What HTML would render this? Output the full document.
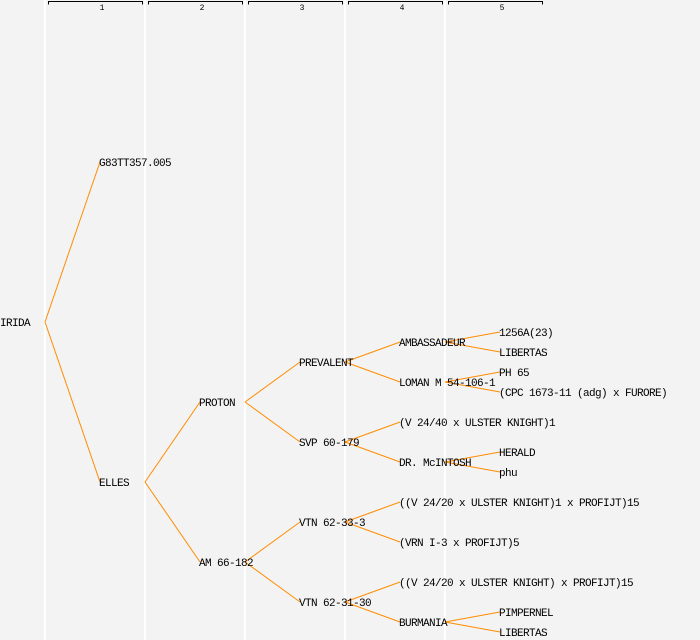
<!DOCTYPE html>
<html><head><meta charset="utf-8"><style>
html,body{margin:0;padding:0;background:#f3f3f3;}
svg{display:block;}
text{font-family:"Liberation Mono",monospace;font-size:11px;letter-spacing:-0.6px;fill:#000;}
</style></head><body>
<svg width="700" height="640" xmlns="http://www.w3.org/2000/svg">
<rect width="700" height="640" fill="#f3f3f3"/>
<g stroke="#fff" stroke-width="2">
<line x1="45" y1="0" x2="45" y2="640"/><line x1="145" y1="0" x2="145" y2="640"/>
<line x1="245" y1="0" x2="245" y2="640"/><line x1="345" y1="0" x2="345" y2="640"/>
<line x1="445" y1="0" x2="445" y2="640"/>
</g>
<g stroke="#000" stroke-width="1" fill="none">
<path d="M48.5 4.5V1.5H142.5V4.5"/><path d="M148.5 4.5V1.5H242.5V4.5"/>
<path d="M248.5 4.5V1.5H342.5V4.5"/><path d="M348.5 4.5V1.5H442.5V4.5"/>
<path d="M448.5 4.5V1.5H542.5V4.5"/>
</g>
<g text-anchor="middle">
<text x="102" y="10" style="font-size:8px;letter-spacing:0">1</text><text x="202" y="10" style="font-size:8px;letter-spacing:0">2</text>
<text x="302" y="10" style="font-size:8px;letter-spacing:0">3</text><text x="402" y="10" style="font-size:8px;letter-spacing:0">4</text>
<text x="502" y="10" style="font-size:8px;letter-spacing:0">5</text>
</g>
<g stroke="#ff8c00" stroke-width="1" fill="none">
<path d="M45 322L100 162M45 322L100 482"/>
<path d="M145 482L200 402M145 482L200 562"/>
<path d="M245 402L300 362M245 402L300 442M245 562L300 522M245 562L300 602"/>
<path d="M345 362L400 342M345 362L400 382M345 442L400 422M345 442L400 462M345 522L400 502M345 522L400 542M345 602L400 582M345 602L400 622"/>
<path d="M445 342L500 332M445 342L500 352M445 382L500 372M445 382L500 392M445 462L500 452M445 462L500 472M445 622L500 612M445 622L500 632"/>
</g>
<g transform="translate(0,4)">
<text x="0" y="322">IRIDA</text>
<text x="99" y="162">G83TT357.005</text>
<text x="99" y="482">ELLES</text>
<text x="199" y="402">PROTON</text>
<text x="199" y="562">AM 66-182</text>
<text x="299" y="362">PREVALENT</text>
<text x="299" y="442">SVP 60-179</text>
<text x="299" y="522">VTN 62-33-3</text>
<text x="299" y="602">VTN 62-31-30</text>
<text x="399" y="342">AMBASSADEUR</text>
<text x="399" y="382">LOMAN M 54-106-1</text>
<text x="399" y="422">(V 24/40 x ULSTER KNIGHT)1</text>
<text x="399" y="462">DR. McINTOSH</text>
<text x="399" y="502">((V 24/20 x ULSTER KNIGHT)1 x PROFIJT)15</text>
<text x="399" y="542">(VRN I-3 x PROFIJT)5</text>
<text x="399" y="582">((V 24/20 x ULSTER KNIGHT) x PROFIJT)15</text>
<text x="399" y="622">BURMANIA</text>
<text x="499" y="332">1256A(23)</text>
<text x="499" y="352">LIBERTAS</text>
<text x="499" y="372">PH 65</text>
<text x="499" y="392">(CPC 1673-11 (adg) x FURORE)</text>
<text x="499" y="452">HERALD</text>
<text x="499" y="472">phu</text>
<text x="499" y="612">PIMPERNEL</text>
<text x="499" y="632">LIBERTAS</text>
</g>
</svg>
</body></html>
